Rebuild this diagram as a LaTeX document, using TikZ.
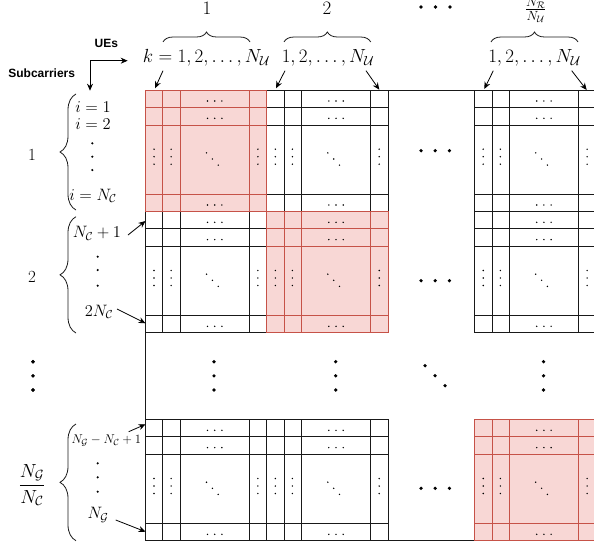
\RequirePackage{fix-cm}
\documentclass[tikz,border=0pt]{standalone}
\usepackage{amsmath}
\usepackage{fontspec}
\newfontfamily\uisans{Liberation Sans}
\usetikzlibrary{decorations.pathreplacing,arrows.meta}
\definecolor{redfill}{RGB}{248,215,213}
\definecolor{redline}{RGB}{198,82,72}
\definecolor{gridline}{RGB}{25,25,25}
\tikzset{
  wblock/.style={draw=gridline,line width=0.8pt},
  rblock/.style={draw=redline,fill=redfill,line width=0.8pt},
  mlab/.style={inner sep=0pt,font=\fontsize{19}{22}\selectfont},
  llab/.style={inner sep=0pt,font=\fontsize{16.5}{19}\selectfont},
  slab/.style={inner sep=0pt,font=\fontsize{12.7}{15}\selectfont},
  nlab/.style={inner sep=0pt,font=\fontsize{17}{20}\selectfont},
  axlab/.style={inner sep=0pt,font=\uisans\bfseries\fontsize{12}{14}\selectfont},
  topbrace/.style={draw=gridline,line width=0.8pt,decorate,decoration={brace,amplitude=10pt}},
  leftbrace/.style={draw=gridline,line width=0.8pt,decorate,decoration={brace,amplitude=16pt}},
  arr/.style={draw=black,line width=0.8pt,-{Stealth[length=7pt,width=6pt]}},
  sdot/.style={fill=black},
}
\newcommand\drawblock[3]{%
\begin{scope}[shift={(#1,#2)}]
  \path[#3] (0,0) rectangle (121.3,121.3);
  \path[#3,fill=none] (17.3,0) -- (17.3,121.3) (35,0) -- (35,121.3) (104,0) -- (104,121.3)
            (0,17.5) -- (121.3,17.5) (0,35) -- (121.3,35) (0,104) -- (121.3,104);
  \foreach \yy in {11,28.3,115}{\fill[sdot] (62,\yy) circle (0.8pt) (69.2,\yy) circle (0.8pt) (76.4,\yy) circle (0.8pt);}
  \foreach \xx in {8.5,25.6,112.4}{\fill[sdot] (\xx,59.2) circle (0.8pt) (\xx,66.7) circle (0.8pt) (\xx,74.2) circle (0.8pt);}
  \fill[sdot] (61,62.9) circle (0.8pt) (66.9,69) circle (0.8pt) (72.7,75.1) circle (0.8pt);
\end{scope}}
\begin{document}
\begin{tikzpicture}[x=1pt,y=-1pt]
\useasboundingbox (0,0) rectangle (594,551);
% outer frame
\draw[gridline,line width=0.8pt] (600,90) -- (145.5,90) -- (145.5,540.6) -- (600,540.6);
% white blocks
\drawblock{266.8}{90}{wblock}
\drawblock{474.7}{90}{wblock}
\drawblock{145.5}{211.3}{wblock}
\drawblock{474.7}{211.3}{wblock}
\drawblock{145.5}{419.3}{wblock}
\drawblock{266.8}{419.3}{wblock}
% highlighted blocks
\drawblock{145.5}{90}{rblock}
\drawblock{266.8}{211.3}{rblock}
\drawblock{474.7}{419.3}{rblock}
% big dots in gaps
\foreach \yy in {150.7,280.7,488.3}{\fill (421,\yy) circle (1.8pt) (435.2,\yy) circle (1.8pt) (449.4,\yy) circle (1.8pt);}
\foreach \xx in {33,214,335.7,543.5}{\fill (\xx,361.7) circle (1.8pt) (\xx,375.8) circle (1.8pt) (\xx,390) circle (1.8pt);}
\fill (425,365.7) circle (1.8pt) (435,375.7) circle (1.8pt) (445,385.7) circle (1.8pt);
\fill (421,7) circle (1.8pt) (435.5,7) circle (1.8pt) (450,7) circle (1.8pt);
% top labels
\node[mlab] (g1) at (207,8.5) {$1$};
\node[mlab] (g2) at (327,8.5) {$2$};
\node[mlab] (gf) at (535.7,10) {$\frac{N_{\mathcal R}}{N_{\mathcal U}}$};
\draw[topbrace] (163,42) -- (250,42);
\draw[topbrace] (284,42) -- (370.7,42);
\draw[topbrace] (491,42) -- (578,42);
\node[mlab] (k1) at (206.5,58) {$k=1,2,\ldots,N_{\mathcal U}$};
\node[mlab] (k2) at (328,58) {$1,2,\ldots,N_{\mathcal U}$};
\node[mlab] (k3) at (534.5,58) {$1,2,\ldots,N_{\mathcal U}$};
% axis labels
\node[axlab] (ues) at (106.3,43.3) {UEs};
\node[axlab] (sub) at (41.7,73.3) {Subcarriers};
\coordinate (ec) at (90,60.7);
\coordinate (eR) at (127.7,60.7);
\coordinate (eD) at (90,90.7);
\draw[line width=0.8pt,{Stealth[length=7pt,width=6pt]}-{Stealth[length=7pt,width=6pt]}] (eR) -- (ec) -- (eD);
% top arrows
\coordinate (a1s) at (163,70.7); \coordinate (a1e) at (155,88.3);
\coordinate (a2s) at (285,70.7); \coordinate (a2e) at (276,88.3);
\coordinate (a3s) at (366,70.7); \coordinate (a3e) at (379.3,89.7);
\coordinate (a4s) at (493.3,70.7); \coordinate (a4e) at (484.3,89);
\coordinate (a5s) at (571.7,70.7); \coordinate (a5e) at (586.7,90);
\foreach \i in {1,...,5}{\draw[arr] (a\i s) -- (a\i e);}
% left labels
\node[nlab] (n1) at (32,155) {$1$};
\node[nlab] (n2) at (32,276.7) {$2$};
\node[mlab] (nf) at (32,485) {$\dfrac{N_{\mathcal G}}{N_{\mathcal C}}$};
\foreach \yy in {361.7,375.8,390}{\fill (33,\yy) circle (1.8pt);}
\draw[leftbrace] (76,210) -- (76,94);
\draw[leftbrace] (76,333) -- (76,216.7);
\draw[leftbrace] (76,540.7) -- (76,424);
\node[llab] (i1) at (93,107.3) {$i=1$};
\node[llab] (i2) at (93,124.3) {$i=2$};
\foreach \yy in {143.3,156.7,170}{\fill (92.3,\yy) circle (1.2pt);}
\node[llab] (iN) at (93,196) {$i=N_{\mathcal C}$};
\node[llab] (r2a) at (97,233.3) {$N_{\mathcal C}+1$};
\foreach \yy in {256.7,270,285.7}{\fill (97.7,\yy) circle (1.2pt);}
\node[llab] (r2b) at (99,312) {$2N_{\mathcal C}$};
\node[slab] (r3a) at (106.3,441) {$N_{\mathcal G}-N_{\mathcal C}+1$};
\foreach \yy in {463.3,477.3,491.7}{\fill (97.7,\yy) circle (1.2pt);}
\node[llab] (r3b) at (98,515) {$N_{\mathcal G}$};
% left arrows
\coordinate (b1s) at (128,235); \coordinate (b1e) at (145.5,221);
\coordinate (b2s) at (117,309); \coordinate (b2e) at (145.5,323.3);
\coordinate (b3s) at (128.7,431.7); \coordinate (b3e) at (145.5,424.3);
\coordinate (b4s) at (115.7,520); \coordinate (b4e) at (145.5,531.7);
\foreach \i in {1,...,4}{\draw[arr] (b\i s) -- (b\i e);}
\end{tikzpicture}
\end{document}
